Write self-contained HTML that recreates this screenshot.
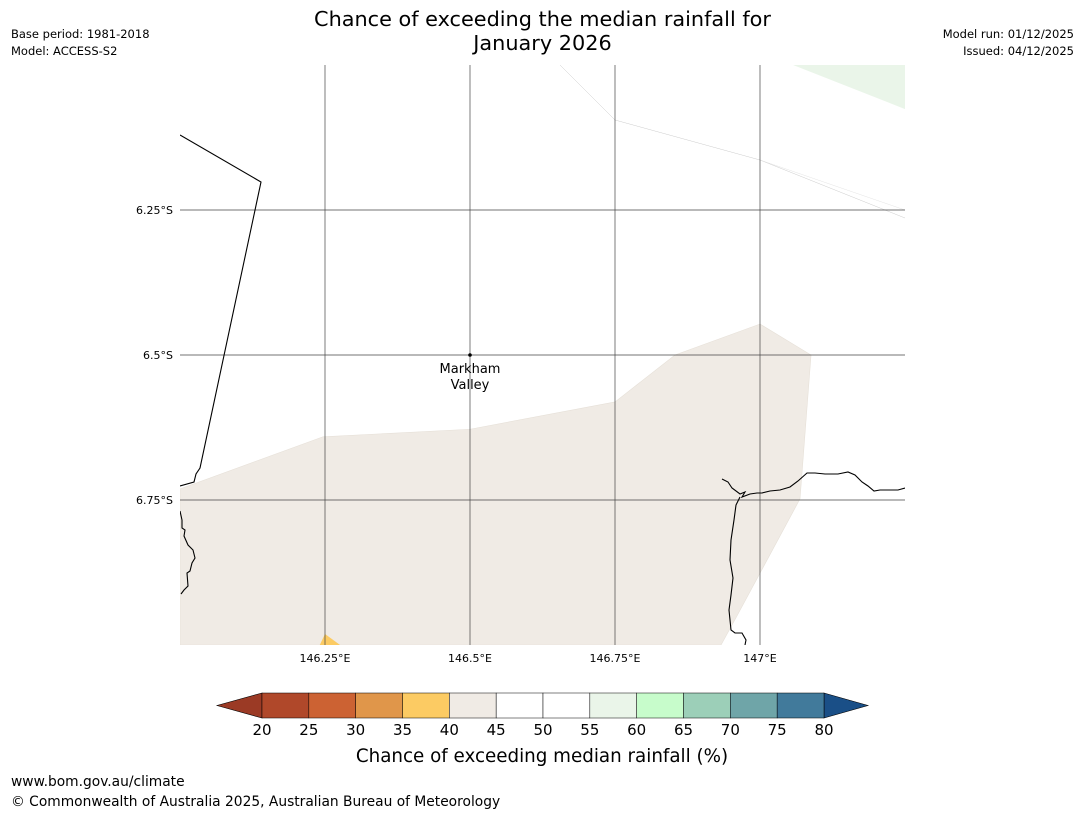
<!DOCTYPE html>
<html><head><meta charset="utf-8">
<style>
body{margin:0;background:#fff;font-family:"Liberation Sans","DejaVu Sans",sans-serif;}
#wrap{position:relative;width:1085px;height:816px;overflow:hidden;}
.t{position:absolute;font-family:"DejaVu Sans","Liberation Sans",sans-serif;white-space:nowrap;}
</style></head>
<body>
<div id="wrap">
<div class="t" style="left:0;width:1085px;top:7px;text-align:center;font-size:20.8px;line-height:24px;">Chance of exceeding the median rainfall for<br>January 2026</div>
<div class="t" style="left:11px;top:26px;font-size:11.5px;line-height:17px;">Base period: 1981-2018<br>Model: ACCESS-S2</div>
<div class="t" style="right:11px;top:26px;font-size:11.5px;line-height:17px;text-align:right;">Model run: 01/12/2025<br>Issued: 04/12/2025</div>
<div class="t" style="left:11px;top:774px;font-size:13.8px;">www.bom.gov.au/climate</div>
<div class="t" style="left:11px;top:794px;font-size:13.8px;">© Commonwealth of Australia 2025, Australian Bureau of Meteorology</div>
<svg id="svg" width="1085" height="816" style="position:absolute;left:0;top:0"></svg>
</div>
<script>
const lonTicks=[146.25,146.5,146.75,147];
const lonLabels=["146.25°E","146.5°E","146.75°E","147°E"];
const latTicks=[-6.25,-6.5,-6.75];
const latLabels=["6.25°S","6.5°S","6.75°S"];
const beigeLon=[146.0,146.2466,146.5,146.75,146.8534,147.0,147.088,147.069,146.9586,146.9328,146.0];
const beigeLat=[-6.731,-6.641,-6.628,-6.581,-6.5,-6.4466,-6.5,-6.748,-6.953,-7.0,-7.0];
const greenLon=[147.057,147.25,147.25];
const greenLat=[-6.0,-6.0,-6.076];
const orangeLon=[146.241,146.25,146.276];
const orangeLat=[-7.0,-6.981,-7.0];
const cbBounds=[20,25,30,35,40,45,50,55,60,65,70,75,80];
const cbColors=["#b0482a","#cc6233","#e0964a","#fccb63","#f0ebe5","#ffffff","#ffffff","#eaf5e9","#c7fccb","#9ccfb8","#6fa5a8","#417a9b"];
const placeLon=[146.5], placeLat=[-6.5];

const NS="http://www.w3.org/2000/svg";
const svg=document.getElementById('svg');
const X0=180,X1=905,Y0=65,Y1=645,LON0=146,LON1=147.25,LAT0=-6,LAT1=-7;
const xs=l=>X0+(l-LON0)/(LON1-LON0)*(X1-X0);
const ys=l=>Y0+(l-LAT0)/(LAT1-LAT0)*(Y1-Y0);
function mk(tag,attrs,parent){const e=document.createElementNS(NS,tag);for(const k in attrs)e.setAttribute(k,attrs[k]);(parent||svg).appendChild(e);return e;}
function poly(lons,lats){return lons.map((l,i)=>xs(l)+","+ys(lats[i])).join(" ");}

const defs=mk('defs',{});const cp=mk('clipPath',{id:'mc'},defs);mk('rect',{x:X0,y:Y0,width:X1-X0,height:Y1-Y0},cp);
const g=mk('g',{'clip-path':'url(#mc)'});


let p=mk('polygon',{points:poly(beigeLon,beigeLat),fill:'#f0ebe5',stroke:'#e6e0d8','stroke-width':0.6},g);

p=mk('polygon',{points:poly(greenLon,greenLat),fill:'#eaf5e9'},g);

p=mk('polygon',{points:poly(orangeLon,orangeLat),fill:'#fccb63'},g);


p=mk('polyline',{points:"560,65 615,120 760,160 905,218",fill:'none',stroke:'#ccc','stroke-width':0.5},g);

p=mk('polyline',{points:"760,160 905,210",fill:'none',stroke:'#ddd','stroke-width':0.4},g);


lonTicks.forEach((l,i)=>{const x=xs(l);
 const ln=mk('line',{x1:x,y1:Y0,x2:x,y2:Y1,stroke:'#444','stroke-width':0.7},g);
 
 const t=mk('text',{x:x,y:Y1+17,'font-size':11,'text-anchor':'middle','font-family':'DejaVu Sans, Liberation Sans, sans-serif'});
 t.textContent=lonLabels[i];});
latTicks.forEach((l,i)=>{const y=ys(l);
 const ln=mk('line',{x1:X0,y1:y,x2:X1,y2:y,stroke:'#444','stroke-width':0.7},g);
 
 const t=mk('text',{x:X0-7,y:y+4,'font-size':11,'text-anchor':'end','font-family':'DejaVu Sans, Liberation Sans, sans-serif'});
 t.textContent=latLabels[i];});

p=mk('polyline',{points:"180,135 261,182 200,468 196,474 194,482 180,486",fill:'none',stroke:'#000','stroke-width':1.1},g);

p=mk('polyline',{points:"180,511 182,520 182,528 185,530 184,536 188,545 193,550 195,558 192,563 190,571 187,573 188,586 184,590 181,594",fill:'none',stroke:'#000','stroke-width':1.1},g);

p=mk('polyline',{points:"722,479 728,482 732,488 740,494 745,492 742,497 750,494 757,493 762,493 770,491 780,490 790,487 798,481 807,473 815,473 825,474 838,474 848,472 855,475 862,482 868,486 874,491 880,490 888,490 898,490 905,488",fill:'none',stroke:'#000','stroke-width':1.1},g);

p=mk('polyline',{points:"740,497 736,505 734,520 731,540 730,560 733,578 731,595 729,610 731,630 735,633 742,633 746,640 745,645",fill:'none',stroke:'#000','stroke-width':1.1},g);


p=mk('circle',{cx:xs(placeLon[0]),cy:ys(placeLat[0]),r:1.8,fill:'#000'});

let t=mk('text',{x:xs(placeLon[0]),y:ys(placeLat[0])+18,'font-size':13,'text-anchor':'middle','font-family':'DejaVu Sans, Liberation Sans, sans-serif'});
t.textContent="Markham";
t=mk('text',{x:xs(placeLon[0]),y:ys(placeLat[0])+34,'font-size':13,'text-anchor':'middle','font-family':'DejaVu Sans, Liberation Sans, sans-serif'});
t.textContent="Valley";

const CX0=262,CX1=824,CY0=693,CY1=718;
const cx=v=>CX0+(v-cbBounds[0])/(cbBounds[cbBounds.length-1]-cbBounds[0])*(CX1-CX0);
const cb=mk('g',{});
p=mk('polygon',{points:`${CX0},${CY0} 217,${(CY0+CY1)/2} ${CX0},${CY1}`,fill:'#9b3a25',stroke:'#000','stroke-width':0.6},cb);

p=mk('polygon',{points:`${CX1},${CY0} 868,${(CY0+CY1)/2} ${CX1},${CY1}`,fill:'#1a4f87',stroke:'#000','stroke-width':0.6},cb);

cbColors.forEach((c,i)=>{const r=mk('rect',{x:cx(cbBounds[i]),y:CY0,width:cx(cbBounds[i+1])-cx(cbBounds[i]),height:CY1-CY0,fill:c,stroke:'#000','stroke-width':0.5},cb);
 });
cbBounds.forEach(v=>{const tt=mk('text',{x:cx(v),y:735,'font-size':15,'text-anchor':'middle','font-family':'DejaVu Sans, Liberation Sans, sans-serif'},cb);
 tt.textContent=v;});
t=mk('text',{x:542,y:762,'font-size':18.3,'text-anchor':'middle','font-family':'DejaVu Sans, Liberation Sans, sans-serif'},cb);
t.textContent="Chance of exceeding median rainfall (%)";
</script>
</body></html>
